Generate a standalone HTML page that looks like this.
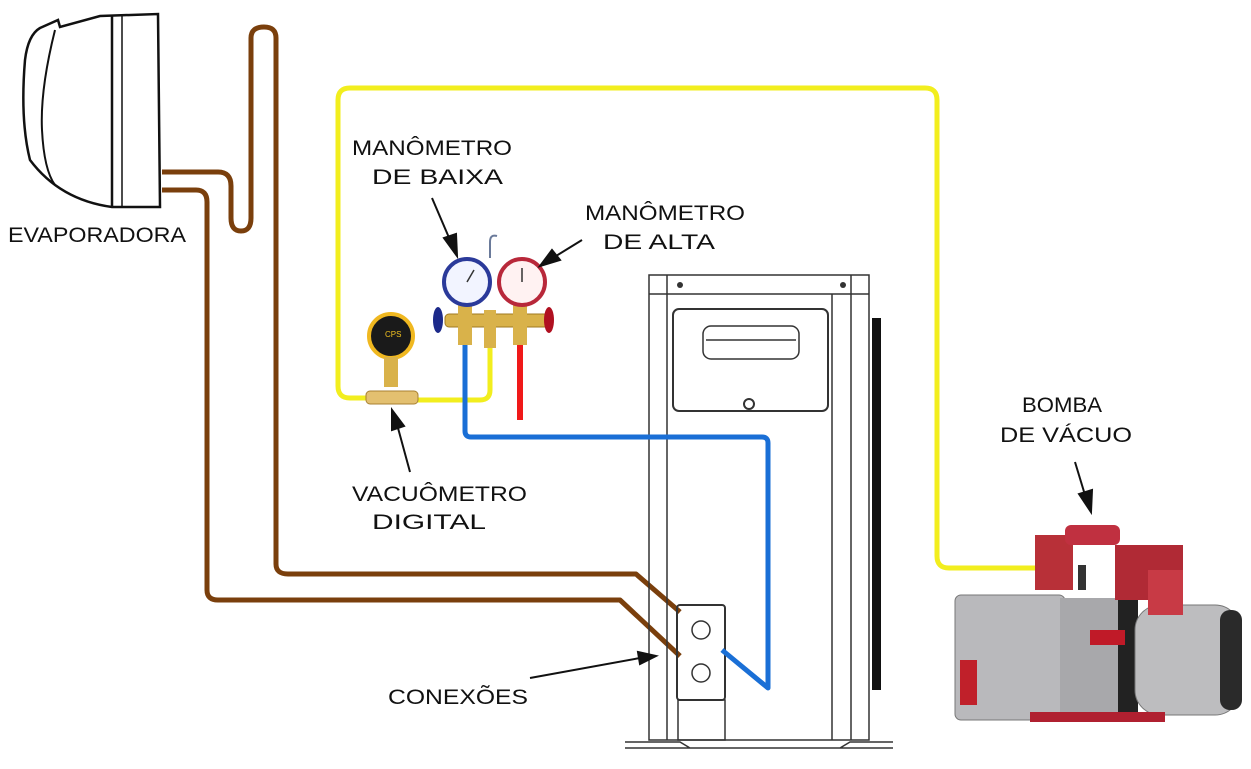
<!DOCTYPE html>
<html><head><meta charset="utf-8"><style>
html,body{margin:0;padding:0;background:#fff;}
svg{display:block;}
text{font-family:"Liberation Sans",sans-serif;font-size:21px;fill:#111;}
</style></head><body>
<svg width="1251" height="769" viewBox="0 0 1251 769" xmlns="http://www.w3.org/2000/svg">
<!-- Evaporator -->
<g fill="none" stroke="#111" stroke-width="2.5">
<path d="M40 28 L58 20 L60 27 L100 16 L158 14 L160 207 L112 207 Q60 200 30 160 Q20 120 25 60 Q28 35 40 28 Z"/>
<path d="M55 30 Q40 90 42 130 Q44 170 55 185" stroke-width="2"/>
<line x1="112" y1="16" x2="112" y2="207"/>
<line x1="122" y1="16" x2="122" y2="207" stroke-width="1.5"/>
</g>
<text x="8" y="242" textLength="178" lengthAdjust="spacingAndGlyphs">EVAPORADORA</text>
<!-- brown tubes -->
<g fill="none" stroke="#7a3f0c" stroke-width="5" stroke-linejoin="round">
<path d="M162 172 H218 Q231 172 231 186 V218 Q231 231 241 231 Q251 231 251 218 V38 Q251 27 264 27 Q276 27 276 38 V564 Q276 574 288 574 H636 L680 612"/>
<path d="M162 190 H196 Q207 190 207 202 V590 Q207 600 218 600 H620 L680 656"/>
</g>
<!-- yellow hose -->
<g fill="none" stroke="#f2ee1e" stroke-width="5" stroke-linejoin="round">
<path d="M383 398 H350 Q338 398 338 386 V100 Q338 88 350 88 H925 Q937 88 937 100 V556 Q937 568 949 568 H1072"/>
<path d="M405 400 H480 Q490 400 490 390 V340"/>
</g>
<!-- outdoor unit -->
<g fill="none" stroke="#333" stroke-width="1.5">
<rect x="649" y="275" width="220" height="465"/>
<line x1="649" y1="294" x2="869" y2="294"/>
<line x1="667" y1="275" x2="667" y2="740"/>
<line x1="832" y1="294" x2="832" y2="740"/>
<line x1="851" y1="275" x2="851" y2="740"/>
<rect x="673" y="309" width="155" height="102" rx="6" stroke-width="2"/>
<rect x="703" y="326" width="96" height="33" rx="8"/>
<line x1="706" y1="340" x2="796" y2="340"/>
<path d="M625 748 H893 M625 742 H680 L690 748 M893 742 H850 L840 748"/>
<rect x="677" y="605" width="48" height="95" rx="3" stroke-width="2"/>
<circle cx="701" cy="630" r="9"/><circle cx="701" cy="673" r="9"/>
<rect x="678" y="700" width="47" height="40"/>
</g>
<rect x="872" y="318" width="9" height="372" fill="#111"/>
<circle cx="680" cy="285" r="3" fill="#333"/><circle cx="843" cy="285" r="3" fill="#333"/>
<circle cx="749" cy="404" r="5" fill="none" stroke="#333" stroke-width="2"/>
<!-- blue & red hoses -->
<path d="M465 340 V431 Q465 437 471 437 H762 Q768 437 768 443 V688 L722 650" fill="none" stroke="#1a6fd6" stroke-width="5" stroke-linejoin="round"/>
<line x1="520" y1="340" x2="520" y2="420" stroke="#f01818" stroke-width="6"/>
<!-- manifold -->
<path d="M490 258 V242 Q490 234 497 236" fill="none" stroke="#6a7a9a" stroke-width="2"/>
<rect x="445" y="314" width="105" height="13" rx="4" fill="#d9b24a" stroke="#a07a20"/>
<rect x="458" y="300" width="14" height="45" fill="#d9b24a"/>
<rect x="484" y="310" width="12" height="38" fill="#d9b24a"/>
<rect x="513" y="300" width="14" height="45" fill="#d9b24a"/>
<ellipse cx="438" cy="320" rx="5" ry="13" fill="#1c2a8a"/>
<ellipse cx="549" cy="320" rx="5" ry="13" fill="#b01020"/>
<circle cx="467" cy="282" r="23" fill="#f2f4ff" stroke="#2b3a9a" stroke-width="4"/>
<circle cx="522" cy="282" r="23" fill="#fff2f2" stroke="#b8283a" stroke-width="4"/>
<line x1="467" y1="282" x2="474" y2="270" stroke="#333" stroke-width="1.5"/>
<line x1="522" y1="282" x2="522" y2="268" stroke="#333" stroke-width="1.5"/>
<!-- vacuometer -->
<circle cx="391" cy="336" r="22" fill="#1a1a1a" stroke="#f0b820" stroke-width="4"/>
<text x="385" y="337" style="font-size:8px;fill:#f0c020">CPS</text>
<rect x="384" y="357" width="14" height="30" fill="#d9b24a"/>
<rect x="366" y="391" width="52" height="13" rx="4" fill="#e3c070" stroke="#a88030"/>
<!-- pump -->
<rect x="955" y="595" width="110" height="125" rx="6" fill="#b9b9bc" stroke="#777"/>
<rect x="960" y="660" width="17" height="45" fill="#c0202a"/>
<rect x="1060" y="598" width="60" height="120" fill="#a8a8ab"/>
<rect x="1118" y="600" width="20" height="118" fill="#222"/>
<rect x="1135" y="605" width="105" height="110" rx="25" fill="#bdbdbf" stroke="#777"/>
<rect x="1220" y="610" width="22" height="100" rx="10" fill="#2a2a2a"/>
<rect x="1035" y="535" width="38" height="55" fill="#b83038"/>
<rect x="1065" y="525" width="55" height="20" rx="6" fill="#c03040"/>
<rect x="1115" y="545" width="68" height="55" fill="#b02a35"/>
<rect x="1148" y="570" width="35" height="45" fill="#c83a45"/>
<rect x="1078" y="565" width="8" height="25" fill="#333"/>
<rect x="1090" y="630" width="35" height="15" fill="#c01a28"/>
<rect x="1030" y="712" width="135" height="10" fill="#b02030"/>
<!-- labels -->
<text x="352" y="155" textLength="160" lengthAdjust="spacingAndGlyphs">MANÔMETRO</text>
<text x="372" y="184" textLength="131" lengthAdjust="spacingAndGlyphs">DE BAIXA</text>
<text x="585" y="220" textLength="160" lengthAdjust="spacingAndGlyphs">MANÔMETRO</text>
<text x="603" y="249" textLength="112" lengthAdjust="spacingAndGlyphs">DE ALTA</text>
<text x="352" y="501" textLength="175" lengthAdjust="spacingAndGlyphs">VACUÔMETRO</text>
<text x="372" y="529" textLength="114" lengthAdjust="spacingAndGlyphs">DIGITAL</text>
<text x="1022" y="412" textLength="80" lengthAdjust="spacingAndGlyphs">BOMBA</text>
<text x="1000" y="442" textLength="132" lengthAdjust="spacingAndGlyphs">DE VÁCUO</text>
<text x="388" y="704" textLength="140" lengthAdjust="spacingAndGlyphs">CONEXÕES</text>
<!-- arrows -->
<g stroke="#111" stroke-width="2" fill="#111">
<line x1="432" y1="198" x2="450" y2="240"/><path d="M444 238 L457 256 L456 234 Z"/>
<line x1="582" y1="240" x2="556" y2="256"/><path d="M552 250 L540 266 L560 260 Z"/>
<line x1="410" y1="472" x2="398" y2="428"/><path d="M392 430 L392 410 L404 426 Z"/>
<line x1="1075" y1="462" x2="1085" y2="495"/><path d="M1079 494 L1091 512 L1092 490 Z"/>
<line x1="530" y1="678" x2="640" y2="658"/><path d="M638 652 L656 656 L640 664 Z"/>
</g>
</svg>
</body></html>
